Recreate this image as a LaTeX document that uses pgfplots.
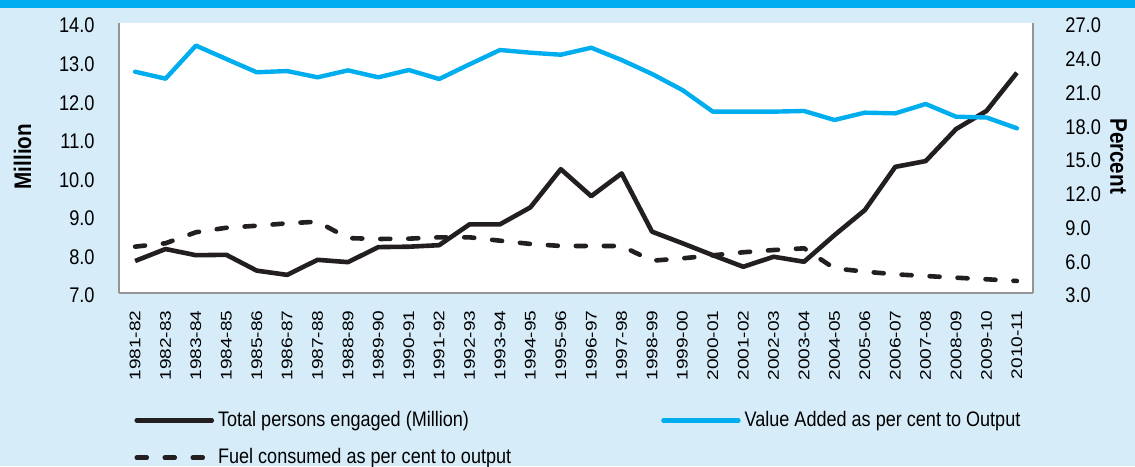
\documentclass[border=0pt]{standalone}
\usepackage{fontspec}
\setmainfont{Liberation Sans}[FakeStretch=0.86]
\newfontfamily\widefont{Liberation Sans}[FakeStretch=1.24]
\usepackage{pgfplots}
\usepackage{pgfplotstable}
\pgfplotsset{compat=1.18}

\definecolor{bgblue}{RGB}{214,236,249}
\definecolor{cyanline}{RGB}{0,174,239}
\definecolor{framegray}{RGB}{150,150,150}
\definecolor{darkline}{RGB}{35,31,32}

% idx, persons (million), value added (%), fuel (%)
\pgfplotstableread{
idx persons value fuel
0  7.83 22.67 7.12
1  8.14 22.05 7.42
2  7.98 24.99 8.40
3  7.99 23.80 8.80
4  7.58 22.62 8.98
5  7.47 22.73 9.19
6  7.86 22.17 9.34
7  7.80 22.79 7.88
8  8.19 22.17 7.80
9  8.20 22.82 7.83
10 8.24 22.02 7.95
11 8.78 23.33 7.95
12 8.78 24.60 7.65
13 9.22 24.36 7.36
14 10.21 24.18 7.18
15 9.51 24.80 7.18
16 10.10 23.71 7.18
17 8.59 22.47 5.87
18 8.29 21.04 6.08
19 7.98 19.12 6.35
20 7.68 19.12 6.62
21 7.94 19.12 6.82
22 7.81 19.18 6.97
23 8.50 18.38 5.19
24 9.15 19.03 4.90
25 10.27 18.97 4.66
26 10.42 19.80 4.51
27 11.25 18.67 4.36
28 11.72 18.60 4.22
29 12.71 17.64 4.07
}\mydata

\pgfplotsset{
  base/.style={
    scale only axis, width=457pt, height=135pt,
    at={(59.5pt,86.5pt)}, anchor=south west,
    xmin=-0.53, xmax=29.53,
    major tick length=0pt,
    axis line style={framegray, line width=0.6pt},
    /pgf/number format/assume math mode=true,
    /pgf/number format/fixed, /pgf/number format/fixed zerofill,
    /pgf/number format/precision=1,
    tick label style={font=\fontsize{10.6}{12}\selectfont, inner sep=0pt},
    yticklabel style={yshift=-1.3pt},
    yticklabel shift=12pt,
    ylabel style={font=\fontsize{12}{14}\selectfont\bfseries, anchor=center},
  },
}

\begin{document}
\begin{tikzpicture}
\path[use as bounding box] (0,0) rectangle (567.5pt,233pt);
\fill[bgblue] (0,0) rectangle (567.5pt,233pt);
\fill[cyanline] (0,229pt) rectangle (567.5pt,233pt);

\begin{axis}[base,
  axis background/.style={fill=white},
  axis y line*=left, axis x line*=bottom,
  ymin=7, ymax=14, ytick={7,8,...,14},
  xtick={0,...,29},
  xticklabels={1981-82,1982-83,1983-84,1984-85,1985-86,1986-87,1987-88,1988-89,1989-90,1990-91,1991-92,1992-93,1993-94,1994-95,1995-96,1996-97,1997-98,1998-99,1999-00,2000-01,2001-02,2002-03,2003-04,2004-05,2005-06,2006-07,2007-08,2008-09,2009-10,2010-11},
  xticklabel style={rotate=90, anchor=east, font=\widefont\fontsize{7.7}{8}\selectfont},
  xticklabel shift=8.5pt,
  ylabel={Million},
  ylabel style={at={(axis description cs:-0.1055,0.505)}},
]
\addplot[darkline, line width=2.3pt, line join=round] table[x=idx, y=persons] {\mydata};
\end{axis}

\begin{axis}[base,
  axis y line*=right, axis x line=none,
  ymin=3, ymax=27, ytick={3,6,...,27},
  yticklabel style={xshift=4pt},
  ylabel={Percent},
  ylabel style={at={(axis description cs:1.0935,0.507)}, rotate=180},
  legend image code/.code={\draw[#1] (0pt,0pt) -- (37.5pt,0pt);},
  legend style={at={(axis description cs:0.0165,-0.422)}, anchor=north west,
    draw=none, fill=none, inner sep=0pt,
    font=\fontsize{10.5}{12}\selectfont,
    /tikz/every even column/.append style={column sep=73pt},
    /tikz/row sep=5.5pt},
  legend columns=2, legend cell align=left,
]
\addlegendimage{darkline, line width=2.3pt, line cap=round}
\addlegendentry{Total persons engaged (Million)}
\addplot[cyanline, line width=2.2pt, line join=round, line cap=round] table[x=idx, y=value] {\mydata};
\addlegendentry{Value Added as per cent to Output}
\addplot[darkline, line width=2.3pt, line cap=round, dash pattern=on 5pt off 9pt] table[x=idx, y=fuel] {\mydata};
\addlegendentry{Fuel consumed as per cent to output}
\end{axis}
\end{tikzpicture}
\end{document}
